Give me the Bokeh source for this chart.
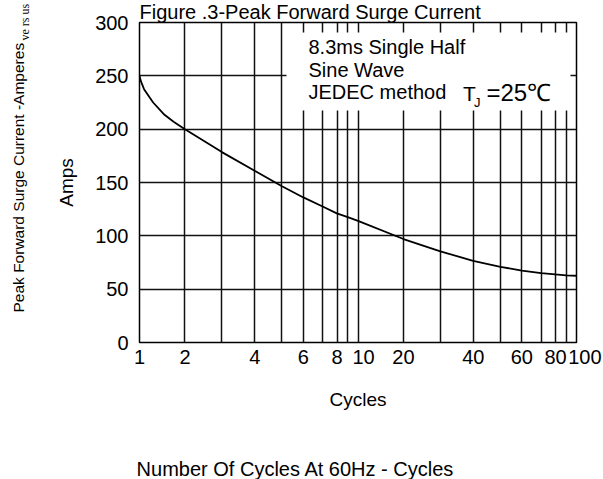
import numpy as np
from bokeh.plotting import figure
from bokeh.models import Range1d, FixedTicker, Label, BoxAnnotation
from bokeh.embed import file_html
from bokeh.resources import INLINE

# ---------------- data ----------------
CYCLES = [1, 1.03, 1.1, 1.3, 1.55, 1.75, 2, 3, 4, 5, 6, 7, 8, 9, 10,
          20, 30, 40, 50, 60, 70, 80, 90, 100]
SURGE_AMPS = [250, 245, 237.5, 225, 213.5, 207, 200, 178.5, 161, 146.5, 136,
              127.5, 121, 117.5, 114, 97, 85.5, 76.5, 71, 67.3, 65, 63.8,
              63, 62.6]

X_TICK_VALUES = [1, 2, 4, 6, 8, 10, 20, 40, 60, 80, 100]
X_TICK_LABELS = ["1", "2", "4", "6", "8", "\u00a0\u00a010", "20", "40", "60",
                 "80", "\u00a0\u00a0\u00a0100"]
GRID_CYCLES = [1, 2, 3, 4, 5, 6, 7, 8, 9, 10, 20, 30, 40, 50, 60, 70, 80, 90, 100]
Y_TICKS = [0, 50, 100, 150, 200, 250, 300]

# the chart's own (hand-drawn) cycle scale: place of 1..10 inside each decade
DECADE_MANTISSA = [1, 2, 3, 4, 5, 6, 7, 8, 9, 10]
DECADE_FRAC = [0, 0.208, 0.377, 0.527, 0.652, 0.750, 0.838, 0.903, 0.953, 1.0]
DECADE_UNITS = 500  # axis units per decade (axis runs 0..1000)


def cyc_pos(c):
    c = float(c)
    d = min(int(np.floor(np.log10(c) + 1e-9)), 1)
    m = c / 10 ** d
    return d * DECADE_UNITS + np.interp(m, DECADE_MANTISSA, DECADE_FRAC) * DECADE_UNITS


# ---------------- geometry ----------------
W, H = 603, 479
FL, FW, FT, FH = 139, 437, 22, 320   # frame in canvas px
FB = FT + FH


def X(px):          # canvas px -> x data
    return (px - FL) / FW * 1000


def Y(py):          # canvas px -> y data
    return (FB - py) / FH * 300


p = figure(width=W, height=H, output_backend="svg", toolbar_location=None,
           x_range=Range1d(0, 1000), y_range=Range1d(0, 300),
           min_border_left=FL, min_border_right=W - FL - FW,
           min_border_top=FT, min_border_bottom=H - FB)
p.background_fill_color = "white"
p.border_fill_color = "white"
p.outline_line_color = "black"
p.outline_line_width = 1.5

grid_pos = [int(round(cyc_pos(c))) for c in GRID_CYCLES]
tick_pos = [int(round(cyc_pos(c))) for c in X_TICK_VALUES]

p.xgrid.ticker = FixedTicker(ticks=grid_pos)
p.ygrid.ticker = FixedTicker(ticks=Y_TICKS)
for g in (p.xgrid[0], p.ygrid[0]):
    g.grid_line_color = "#111111"
    g.grid_line_width = 1.5
    g.grid_line_alpha = 1.0

xa = p.xaxis[0]
xa.ticker = FixedTicker(ticks=tick_pos)
xa.major_label_overrides = {tp: lab for tp, lab in zip(tick_pos, X_TICK_LABELS)}
xa.axis_label = "Cycles"
ya = p.yaxis[0]
ya.ticker = FixedTicker(ticks=Y_TICKS)
ya.axis_label = "Amps"
for ax in (xa, ya):
    ax.axis_line_color = None
    ax.major_tick_line_color = None
    ax.minor_tick_line_color = None
    ax.major_tick_out = 0
    ax.major_tick_in = 0
    ax.major_label_text_font = "Liberation Sans"
    ax.major_label_text_font_size = "20px"
    ax.major_label_text_color = "black"
    ax.axis_label_text_font = "Liberation Sans"
    ax.axis_label_text_font_size = "19px"
    ax.axis_label_text_font_style = "normal"
    ax.axis_label_text_color = "black"
xa.major_label_standoff = 3
xa.axis_label_standoff = 18
ya.major_label_standoff = 11
ya.axis_label_standoff = 15

xs = [cyc_pos(c) for c in CYCLES]
p.line(xs, SURGE_AMPS, line_color="black", line_width=1.8)

# white box that hides the grid behind the note
p.add_layout(BoxAnnotation(left=X(286), right=X(570), top=Y(32), bottom=Y(110),
                           fill_color="white", fill_alpha=1.0,
                           line_color=None, level="annotation"))

MID = 0.347  # (ascent - descent) / 2, in em: middle-anchor -> baseline shift


def lab(text, px, base, size=20, font="Liberation Sans", place="center",
        vertical=False, align="left"):
    """px/base: start (or centre) and baseline of the text in canvas px."""
    if vertical:   # reads bottom-to-top; baseline is a vertical line at x=base
        x, y, angle = base - MID * size, px, np.pi / 2
    else:
        x, y, angle = px, base - MID * size, 0
    lbl = Label(x=X(x), y=Y(y), text=text, text_font=font,
                text_font_size=f"{size}px", text_color="black",
                text_baseline="middle", text_align=align, angle=angle)
    p.add_layout(lbl, place)


# texts inside the frame
lab("8.3ms Single Half", 308, 53.3)
lab("Sine Wave", 308, 76)
lab("JEDEC method", 308, 98.7)
lab("T", 462.5, 100, size=21)
lab("J", 473.5, 107, size=13)
lab("=25\u2103", 486, 100, size=24)

# texts outside the frame (kept in the side panels so they are not clipped)
lab("Figure .3-Peak Forward Surge Current", 139, 18.5, size=20, place="above")
lab("Number Of Cycles At 60Hz - Cycles", 295, 475, size=20,
    align="center", place="below")
lab("Peak Forward Surge Current -Amperes", 312, 23, size=15.5,
    vertical=True, place="left")
lab("ve rs us", 40, 29, size=12, font="Liberation Serif",
    vertical=True, place="left")

open("out.html", "w").write(file_html(p, INLINE))
